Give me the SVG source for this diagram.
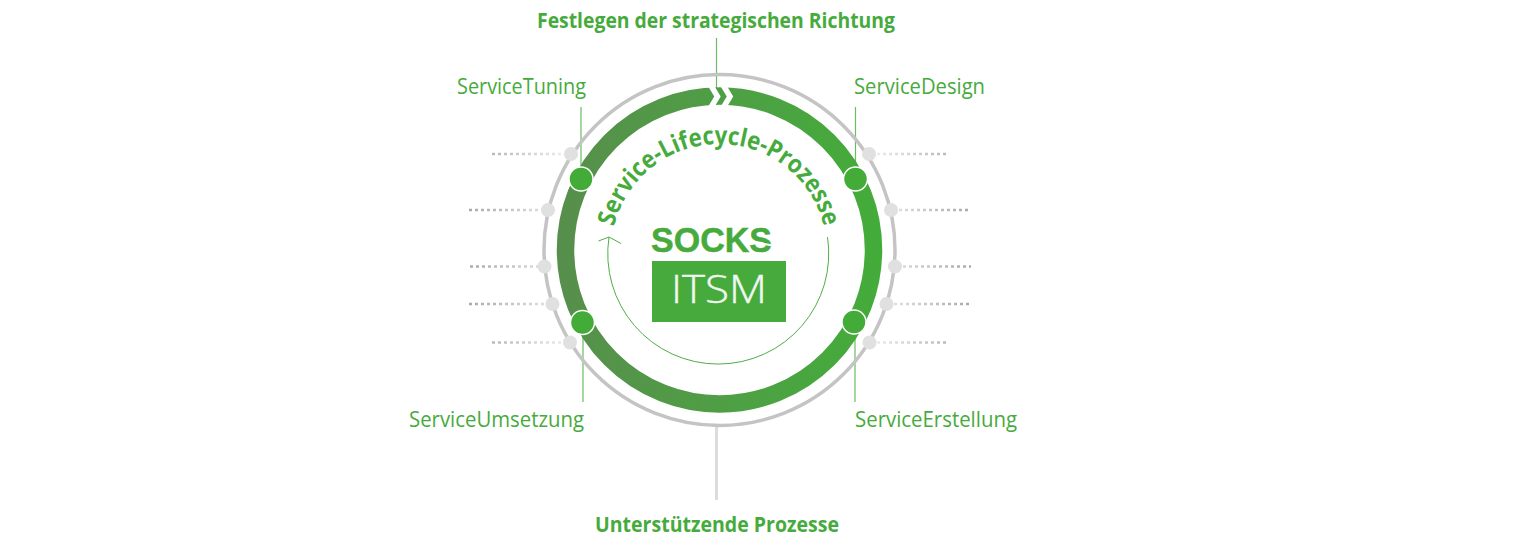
<svg xmlns="http://www.w3.org/2000/svg" width="1536" height="549" viewBox="0 0 1536 549">
<style>
text{font-family:"Open Sans","Noto Sans",sans-serif;fill:#46ab3c}
.lbl{font-size:21px}
.ttl{font-size:21px;font-weight:700}
.lead{stroke:#46ab3c;stroke-width:1.2;fill:none;opacity:.8}
.gn{fill:#43ab37;stroke:#fff;stroke-width:1.5}
.gd{fill:#e0e0e0}
.dot{stroke-width:2.5;stroke-dasharray:3 3;fill:none}
</style>
<defs>
<linearGradient id="ringG" gradientUnits="userSpaceOnUse" x1="557" y1="250" x2="882" y2="250">
<stop offset="0" stop-color="#578e4c"/><stop offset="0.55" stop-color="#4ea044"/><stop offset="1" stop-color="#43ac39"/>
</linearGradient>
<linearGradient id="fadeL" gradientUnits="userSpaceOnUse" x1="469" y1="0" x2="565" y2="0">
<stop offset="0" stop-color="#a9a9a9"/><stop offset="1" stop-color="#ececec"/>
</linearGradient>
<linearGradient id="fadeR" gradientUnits="userSpaceOnUse" x1="875" y1="0" x2="971" y2="0">
<stop offset="0" stop-color="#ececec"/><stop offset="1" stop-color="#a9a9a9"/>
</linearGradient>
<path id="arcT" d="M 611 252 A 108 108 0 0 1 827 252"/>
</defs>
<g id="connectors">
<path class="lead" d="M716.500 38V90"/>
<path d="M716.500 427V500" stroke="#dcdcdc" stroke-width="3" fill="none"/>
<path class="lead" d="M581 107V172M855.500 107V172M583 332V402M855 332V402"/>
<path class="dot" stroke="url(#fadeL)" d="M492 154H566M469 210H543M470 266.500H539M469 304H547M492 342.500H564"/>
<path class="dot" stroke="url(#fadeR)" d="M877 154H948M899 210H971M903 266.500H971M894 304H971M877 342.500H948"/>
</g>
<g id="outer-ring"><circle cx="719.500" cy="250" r="175.500" fill="none" stroke="#c4c4c4" stroke-width="3.500"/></g>
<g id="lifecycle-ring">
<circle cx="719.500" cy="250" r="154" fill="none" stroke="url(#ringG)" stroke-width="17.500"/>
<path d="M710 84L717.500 96.500L710 109M722.500 84L730 96.500L722.500 109" fill="none" stroke="#fff" stroke-width="5.500"/>
</g>
<g id="inner-arrow">
<path d="M827.500 237A110.500 110.500 0 1 1 609 237" fill="none" stroke="#4fae46" stroke-width="1"/>
<path d="M598.500 241L609 237L621 243.500" fill="none" stroke="#4fae46" stroke-width="1"/>
</g>
<g id="gray-dots">
<circle class="gd" cx="571" cy="154" r="7"/><circle class="gd" cx="548" cy="210" r="7"/><circle class="gd" cx="544.500" cy="266.500" r="7"/><circle class="gd" cx="552.500" cy="304" r="7"/><circle class="gd" cx="570" cy="342.500" r="7"/>
<circle class="gd" cx="869" cy="154" r="7"/><circle class="gd" cx="891" cy="210" r="7"/><circle class="gd" cx="895" cy="266.500" r="7"/><circle class="gd" cx="886.500" cy="304" r="7"/><circle class="gd" cx="869.500" cy="342.500" r="7"/>
</g>
<g id="node-tuning"><circle class="gn" cx="581" cy="179" r="12"/><text class="lbl" x="457" y="93.500" textLength="129" lengthAdjust="spacingAndGlyphs">ServiceTuning</text></g>
<g id="node-design"><circle class="gn" cx="855.500" cy="179" r="12"/><text class="lbl" x="854" y="93.500" textLength="131" lengthAdjust="spacingAndGlyphs">ServiceDesign</text></g>
<g id="node-umsetzung"><circle class="gn" cx="582.500" cy="322.500" r="12"/><text class="lbl" x="409" y="426.500" textLength="175" lengthAdjust="spacingAndGlyphs">ServiceUmsetzung</text></g>
<g id="node-erstellung"><circle class="gn" cx="854" cy="322" r="12"/><text class="lbl" x="855" y="426.500" textLength="162" lengthAdjust="spacingAndGlyphs">ServiceErstellung</text></g>
<g id="title-top"><text class="ttl" x="537" y="28" textLength="358" lengthAdjust="spacingAndGlyphs">Festlegen der strategischen Richtung</text></g>
<g id="title-bottom"><text class="ttl" x="595" y="532" textLength="244" lengthAdjust="spacingAndGlyphs">Unterstützende Prozesse</text></g>
<g id="arc-label"><text font-size="25" font-weight="700" text-anchor="middle"><textPath href="#arcT" startOffset="50%" textLength="288" lengthAdjust="spacingAndGlyphs">Service-Lifecycle-Prozesse</textPath></text></g>
<g id="logo">
<text x="651" y="252" font-size="35" font-weight="700" textLength="121" lengthAdjust="spacingAndGlyphs" style="font-family:'Liberation Sans',Arial,sans-serif" stroke="#46ab3c" stroke-width="0.5">SOCKS</text>
<path d="M744 240L775 246" stroke="#fff" stroke-width="2" fill="none"/>
<rect x="652" y="261" width="134" height="61" fill="#46ab3c"/>
<text x="671" y="303" font-size="38" font-weight="300" textLength="96" lengthAdjust="spacingAndGlyphs" style="fill:#f2f8f0" stroke="#f2f8f0" stroke-width="0.4">ITSM</text>
</g>
</svg>
